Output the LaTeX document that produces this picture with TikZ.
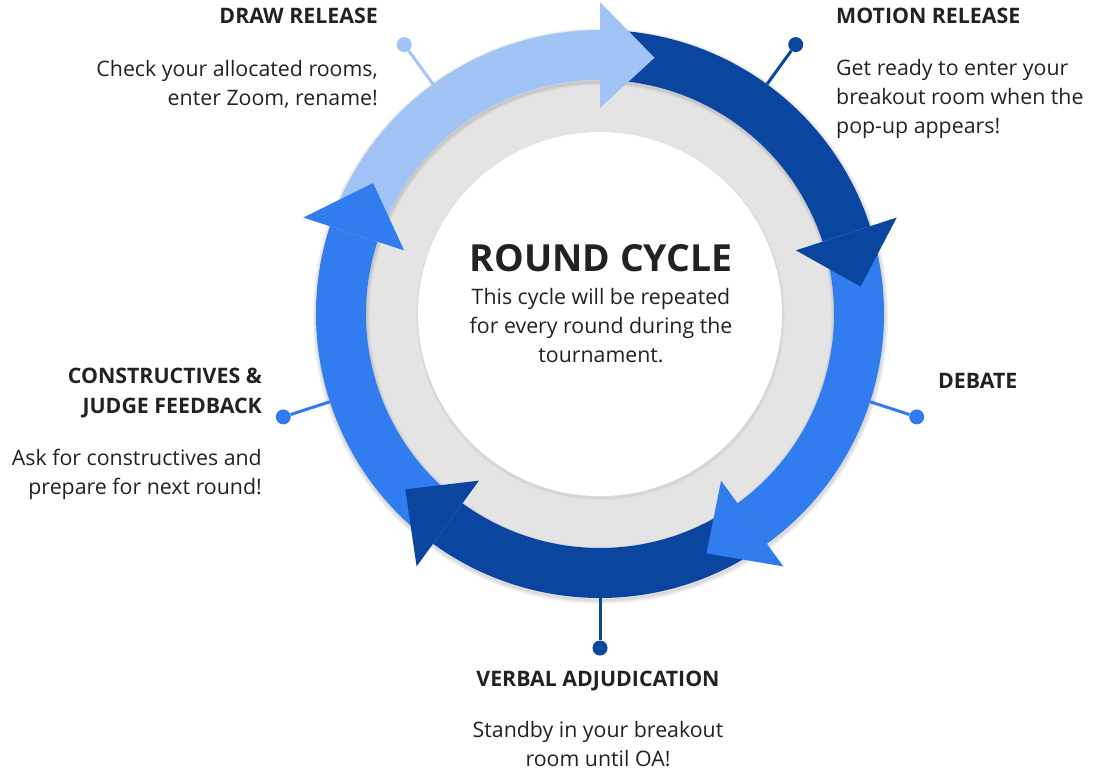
\documentclass[tikz,border=0pt]{standalone}
\usepackage{fontspec}
\setmainfont{Open Sans}
\definecolor{lb}{HTML}{A2C3F6}
\definecolor{db}{HTML}{0A46A0}
\definecolor{mb}{HTML}{317DF0}
\definecolor{ringgray}{HTML}{E4E4E4}
\definecolor{txt}{HTML}{222222}
\begin{document}
\begin{tikzpicture}[x=1pt,y=-1pt,
  head/.style={font=\bfseries\fontsize{21.33}{29.5}\selectfont, text=txt, inner sep=0pt},
  body/.style={font=\fontsize{21.33}{28.8}\selectfont, text=txt, inner sep=0pt},
  titlestyle/.style={font=\bfseries\fontsize{37.33}{40}\selectfont, text=txt, inner sep=0pt},
  dot/.style={circle, inner sep=0pt, minimum size=15pt},
  conn/.style={line width=3pt}]
\useasboundingbox (0,0) rectangle (1096,769);
\begin{scope}[shift={(600,314)}, yscale=-1]
  % outer soft shadow
  \foreach \k in {1,...,5}
    \draw[black, opacity=0.03, line width=\k*1.6pt] (0.5,-2) circle (284);
  \fill[ringgray] (0,0) circle (234);
  \foreach \k in {1,...,4}
    \draw[black, opacity=0.03, line width=\k*1.6pt] (0.5,-2) circle (234);
  \foreach \k in {1,...,3}
    \draw[black, opacity=0.02, line width=\k*1.6pt] (0.5,-2) circle (182);
  \fill[white] (0,0) circle (182);
  % bands
  \foreach \b/\c [evaluate=\b as \s using \b+72] in {90/lb, 18/db, -54/mb, -126/db, -198/mb}
    \fill[\c] (\s:284) arc[start angle=\s, end angle=\b, radius=284]
      -- (\b:234) arc[start angle=\b, end angle=\s, radius=234] -- cycle;
  % heads
  \foreach \b/\c [evaluate=\b as \t using \b-12] in {90/lb, 18/db, -54/mb, -126/db, -198/mb}
    \fill[\c] (\b:206) -- (\b:312) -- (\t:262) -- cycle;
  % connectors
  \coordinate (r1) at (126:284); \node[dot, fill=lb] (d1) at (126:333) {};
  \coordinate (r2) at (54:284);  \node[dot, fill=db] (d2) at (54:333) {};
  \coordinate (r3) at (-18:284); \node[dot, fill=mb] (d3) at (-18:333) {};
  \coordinate (r4) at (-90:284); \node[dot, fill=db] (d4) at (-90:334) {};
  \coordinate (r5) at (198:284); \node[dot, fill=mb] (d5) at (198:333) {};
  \draw[conn, lb] (r1) -- (d1);
  \draw[conn, db] (r2) -- (d2);
  \draw[conn, mb] (r3) -- (d3);
  \draw[conn, db] (r4) -- (d4);
  \draw[conn, mb] (r5) -- (d5);
\end{scope}
% texts (base anchor of a multi-line node = baseline of its last line)
\node[titlestyle, anchor=base] (tt) at (601,271) {ROUND CYCLE};
\node[body, anchor=base, align=center] (sub) at (601,362) {This cycle will be repeated\\for every round during the\\tournament.};
\node[head, anchor=base east] (t1) at (378,23) {DRAW RELEASE};
\node[body, anchor=base east, align=right] (b1) at (378,105) {Check your allocated rooms,\\enter Zoom, rename!};
\node[head, anchor=base west] (t2) at (836,23) {MOTION RELEASE};
\node[body, anchor=base west, align=left] (b2) at (836,133) {Get ready to enter your\\breakout room when the\\pop-up appears!};
\node[head, anchor=base west] (t3) at (938,388) {DEBATE};
\node[head, anchor=base] (t4) at (598,686) {VERBAL ADJUDICATION};
\node[body, anchor=base, align=center] (b4) at (598,766) {Standby in your breakout\\room until OA!};
\node[head, anchor=base east, align=right] (t5) at (262,413) {CONSTRUCTIVES \&\\JUDGE FEEDBACK};
\node[body, anchor=base east, align=right] (b5) at (262,494) {Ask for constructives and\\prepare for next round!};
\end{tikzpicture}
\end{document}
